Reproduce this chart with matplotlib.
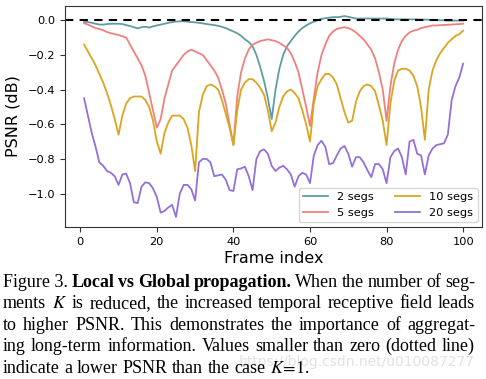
import numpy as np
import matplotlib
matplotlib.use("Agg")
from matplotlib import pyplot as plt

frames = np.arange(1, 101)

segs2 = [-0.01, -0.01, -0.015, -0.02, -0.025, -0.025, -0.022, -0.02, -0.02, -0.02,
         -0.022, -0.028, -0.033, -0.04, -0.047, -0.04, -0.037, -0.042, -0.035, -0.03,
         -0.025, -0.02, -0.015, -0.01, -0.008, -0.006, -0.006, -0.008, -0.01, -0.012,
         -0.015, -0.018, -0.022, -0.025, -0.028, -0.032, -0.038, -0.045, -0.055, -0.065,
         -0.075, -0.09, -0.11, -0.125, -0.15, -0.2, -0.27, -0.35, -0.45, -0.57,
         -0.4, -0.28, -0.2, -0.15, -0.12, -0.09, -0.065, -0.045, -0.03, -0.018,
         -0.008, 0.0, 0.008, 0.012, 0.015, 0.018, 0.018, 0.02, 0.024, 0.02,
         0.015, 0.01, 0.01, 0.01, 0.01, 0.01, 0.01, 0.01, 0.01, 0.01,
         0.008, 0.006, 0.005, 0.005, 0.005, 0.005, 0.005, 0.005, 0.004, 0.004,
         0.003, 0.002, 0.002, 0.0, 0.0, -0.002, -0.002, -0.002, -0.002, -0.002]

segs5 = [-0.017, -0.025, -0.035, -0.045, -0.05, -0.058, -0.068, -0.075, -0.08, -0.085,
         -0.092, -0.1, -0.14, -0.18, -0.22, -0.26, -0.32, -0.42, -0.52, -0.62,
         -0.57, -0.45, -0.37, -0.29, -0.26, -0.23, -0.2, -0.18, -0.17, -0.18,
         -0.19, -0.2, -0.23, -0.26, -0.29, -0.33, -0.4, -0.48, -0.6, -0.72,
         -0.44, -0.3, -0.22, -0.17, -0.14, -0.13, -0.12, -0.115, -0.11, -0.115,
         -0.12, -0.13, -0.145, -0.16, -0.19, -0.24, -0.3, -0.4, -0.5, -0.61,
         -0.45, -0.3, -0.2, -0.14, -0.09, -0.065, -0.05, -0.045, -0.04, -0.045,
         -0.055, -0.07, -0.09, -0.11, -0.14, -0.17, -0.22, -0.3, -0.4, -0.58,
         -0.38, -0.25, -0.17, -0.12, -0.09, -0.07, -0.06, -0.055, -0.045, -0.04,
         -0.035, -0.03, -0.03, -0.028, -0.027, -0.026, -0.025, -0.023, -0.022, -0.02]

segs10 = [-0.14, -0.18, -0.22, -0.26, -0.31, -0.36, -0.42, -0.49, -0.57, -0.66,
          -0.55, -0.48, -0.45, -0.44, -0.44, -0.44, -0.46, -0.5, -0.58, -0.7,
          -0.77, -0.65, -0.59, -0.55, -0.55, -0.55, -0.57, -0.62, -0.72, -0.87,
          -0.53, -0.43, -0.38, -0.37, -0.38, -0.4, -0.46, -0.54, -0.62, -0.72,
          -0.52, -0.4, -0.36, -0.34, -0.34, -0.36, -0.39, -0.43, -0.52, -0.64,
          -0.59, -0.5, -0.44, -0.41, -0.4, -0.42, -0.45, -0.52, -0.6, -0.7,
          -0.48, -0.38, -0.34, -0.31, -0.31, -0.33, -0.37, -0.45, -0.53, -0.59,
          -0.58, -0.47, -0.41, -0.38, -0.37, -0.38, -0.41, -0.49, -0.58, -0.72,
          -0.48, -0.35, -0.29, -0.28, -0.28, -0.29, -0.32, -0.38, -0.5, -0.69,
          -0.4, -0.29, -0.23, -0.19, -0.16, -0.13, -0.11, -0.09, -0.08, -0.06]

segs20 = [-0.45, -0.55, -0.65, -0.73, -0.82, -0.84, -0.87, -0.88, -0.9, -0.95,
          -0.89, -0.885, -0.94, -1.05, -1.055, -0.96, -0.935, -0.94, -0.97, -1.02,
          -1.11, -1.1, -1.08, -1.065, -1.135, -1.0, -0.95, -0.95, -0.975, -1.04,
          -0.82, -0.8, -0.8, -0.82, -0.9, -0.895, -0.89, -0.92, -0.98, -0.985,
          -0.86, -0.855, -0.845, -0.9, -0.98, -0.8, -0.755, -0.745, -0.77, -0.84,
          -0.87, -0.85, -0.84, -0.86, -0.89, -0.96, -0.9, -0.88, -0.89, -0.94,
          -0.78, -0.72, -0.695, -0.73, -0.83, -0.825, -0.78, -0.74, -0.725, -0.77,
          -0.845, -0.79, -0.79, -0.82, -0.865, -0.905, -0.83, -0.83, -0.86, -0.94,
          -0.79, -0.755, -0.74, -0.79, -0.89, -0.7, -0.69, -0.77, -0.78, -0.89,
          -0.78, -0.74, -0.72, -0.715, -0.71, -0.66, -0.46, -0.38, -0.33, -0.25]

labels = ["2 segs", "5 segs", "10 segs", "20 segs"]
colors = ["cadetblue", "lightcoral", "goldenrod", "mediumpurple"]

fig = plt.figure(figsize=(4.86, 3.79), dpi=100)
ax = fig.add_axes([0.134, 0.401, 0.858, 0.583])

for series, label, color in zip([segs2, segs5, segs10, segs20], labels, colors):
    ax.plot(frames, series, color=color, lw=1.3, label=label)
ax.axhline(0, color="k", ls="--", lw=1.5, dashes=(4, 3))

ax.set_xticks([0, 20, 40, 60, 80, 100])
ax.set_yticks([0.0, -0.2, -0.4, -0.6, -0.8, -1.0])
ax.tick_params(labelsize=8.2, length=3.5, color="#333333")
for s in ax.spines.values():
    s.set_color("#333333")
ax.set_xlabel("Frame index", fontsize=11.5, labelpad=3)
ax.set_ylabel("PSNR (dB)", fontsize=11.5, labelpad=5)
ax.legend(loc="lower right", ncol=2, fontsize=8.2, borderaxespad=0.4,
          columnspacing=1.8, handlelength=2.2)

# caption, justified line by line
plt.rcParams["mathtext.fontset"] = "stix"
serif = "Liberation Serif"
cap_size = 13.0
lines = [
    [("Figure 3.", "normal"), ("Local", "bold"), ("vs", "bold"), ("Global", "bold"),
     ("propagation.", "bold"), ("When", "normal"), ("the", "normal"), ("number", "normal"),
     ("of", "normal"), ("seg-", "normal")],
    "ments $K$ is reduced, the increased temporal receptive field leads",
    "to higher PSNR. This demonstrates the importance of aggregat-",
    "ing long-term information. Values smaller than zero (dotted line)",
    "indicate a lower PSNR than the case $K\\!=\\!1$.",
]
baselines = [286.7, 308.2, 329.7, 351.2, 372.7]
left_px, right_px = 3, 475
W, H = 486, 379

fig.canvas.draw()
renderer = fig.canvas.get_renderer()
probe1 = fig.text(0, 0, "a a", fontsize=cap_size, family=serif)
probe2 = fig.text(0, 0, "aa", fontsize=cap_size, family=serif)
space = probe1.get_window_extent(renderer).width - probe2.get_window_extent(renderer).width
probe1.remove()
probe2.remove()

for i, line in enumerate(lines):
    if isinstance(line, str):
        words = [(w, "normal") for w in line.split(" ")]
    else:
        words = line
    y = 1 - baselines[i] / H
    items = []
    for w, weight in words:
        t = fig.text(0, y, w, fontsize=cap_size, family=serif, weight=weight,
                     va="baseline", ha="left")
        items.append(t)
    widths = [t.get_window_extent(renderer).width for t in items]
    if i == len(lines) - 1:
        gap = space
    else:
        gap = (right_px - left_px - sum(widths)) / (len(items) - 1)
    x = left_px
    for t, wd in zip(items, widths):
        t.set_x(x / W)
        x += wd + gap

fig.text(475 / W, 1 - 366 / H, "https://blog.csdn.net/u010087277", fontsize=10,
         color="#e2e2e2", ha="right", va="baseline", family="DejaVu Sans", zorder=-1)

fig.savefig("out.png", dpi=100)
